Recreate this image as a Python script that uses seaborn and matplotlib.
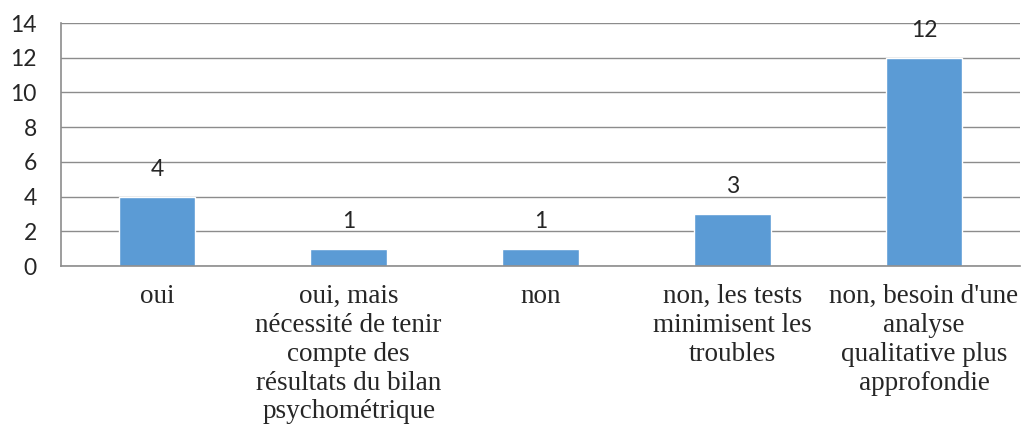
import pandas as pd
import seaborn as sns
import matplotlib.pyplot as plt
from matplotlib.ticker import FixedLocator

# Data
categories = [
    "oui",
    "oui, mais\nnécessité de tenir\ncompte des\nrésultats du bilan\npsychométrique",
    "non",
    "non, les tests\nminimisent les\ntroubles",
    "non, besoin d'une\nanalyse\nqualitative plus\napprofondie",
]
counts = [4, 1, 1, 3, 12]
y_ticks = [0, 2, 4, 6, 8, 10, 12, 14]

df = pd.DataFrame({"categorie": categories, "nombre": counts})

sns.set_style("white")
plt.rcParams["font.family"] = ["Lato", "DejaVu Sans"]

fig = plt.figure(figsize=(10.23, 4.30), dpi=100)
ax = fig.add_axes([0.0596, 0.381, 0.9374, 0.5655])

sns.barplot(data=df, x="categorie", y="nombre", color="#5B9BD5",
            saturation=1, width=0.4, ax=ax)

ax.set_xlim(-0.5, len(categories) - 0.5)
ax.set_ylim(0, 14)
ax.set_yticks(y_ticks)
ax.yaxis.grid(True, color="#8c8c8c", linewidth=1)
ax.set_axisbelow(True)

for side in ["top", "right"]:
    ax.spines[side].set_visible(False)
for side in ["left", "bottom"]:
    ax.spines[side].set_color("#8c8c8c")
    ax.spines[side].set_linewidth(1.2)

ax.set_xlabel("")
ax.set_ylabel("")
ax.tick_params(axis="y", which="major", length=6.5, color="#8c8c8c",
               labelsize=16.5, pad=11)
ax.tick_params(axis="x", which="major", length=0, pad=13)
ax.xaxis.set_minor_locator(FixedLocator([i - 0.5 for i in range(len(categories) + 1)]))
ax.tick_params(axis="x", which="minor", length=5, color="#8c8c8c", width=1)
for lbl in ax.get_xticklabels():
    lbl.set_fontfamily(["Liberation Serif", "DejaVu Serif"])
    lbl.set_fontsize(19.5)
    lbl.set_linespacing(1.2)
    lbl.set_verticalalignment("top")

ax.bar_label(ax.containers[0], fmt="%d", padding=12, fontsize=16.5)

fig.savefig("out.png", dpi=100)
